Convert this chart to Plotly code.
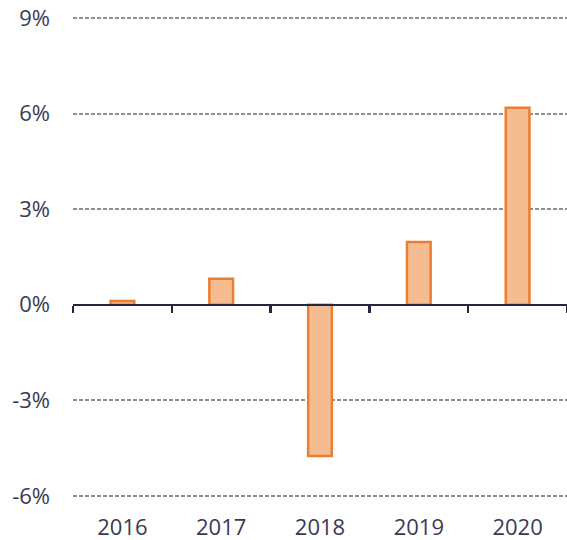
import plotly.graph_objects as go

years = ["2016", "2017", "2018", "2019", "2020"]
values = [0.12, 0.82, -4.75, 1.97, 6.19]
y_ticks = [-6, -3, 0, 3, 6, 9]
y_tick_text = ["-6%", "-3%", "0%", "3%", "6%", "9%"]
boundaries = [-0.5, 0.5, 1.5, 2.5, 3.5, 4.5]
y_range = [-6.1, 9.1]

text_color = "#3a3a55"
font = dict(family="Open Sans", size=22, color=text_color)

fig = go.Figure()
fig.add_trace(go.Bar(
    x=list(range(len(years))), y=values,
    width=0.24,
    marker=dict(color="#F4BC90", line=dict(color="#ED7D31", width=2.5)),
    showlegend=False, hoverinfo="skip",
))
# invisible trace for overlay axis
fig.add_trace(go.Scatter(x=[-0.5, 4.5], y=[0, 0], xaxis="x2", mode="lines",
                         line=dict(width=0), showlegend=False, hoverinfo="skip"))

zero_pos = (0 - y_range[0]) / (y_range[1] - y_range[0])

fig.update_layout(
    width=567, height=540,
    margin=dict(l=73, r=0, t=15, b=41),
    plot_bgcolor="white", paper_bgcolor="white",
    font=font,
    bargap=0,
    xaxis=dict(
        range=[-0.5, 4.5], tickvals=list(range(len(years))), ticktext=years,
        showgrid=False, zeroline=False, showline=False, ticks="",
        ticklabelstandoff=13, tickfont=font, automargin=False,
        ticklabeloverflow="allow",
    ),
    xaxis2=dict(
        overlaying="x", anchor="free", position=zero_pos, side="bottom",
        range=[-0.5, 4.5], tickvals=boundaries, showticklabels=False,
        showgrid=False, zeroline=False, showline=True, linecolor="#262642",
        linewidth=2.5, ticks="outside", ticklen=7, tickwidth=2.5, tickcolor="#262642",
        automargin=False,
    ),
    yaxis=dict(
        range=y_range, tickvals=y_ticks, ticktext=y_tick_text,
        showgrid=True, gridcolor="#8f8f8f", gridwidth=2, griddash="4px,2px",
        zeroline=False, showline=False, ticks="",
        ticklabelstandoff=22, tickfont=font, automargin=False,
        ticklabeloverflow="allow",
    ),
)

fig.write_html(
    "out.html",
    config={"displayModeBar": False, "staticPlot": True},
    post_script="document.body.style.margin='0';document.documentElement.style.overflow='hidden';",
)
